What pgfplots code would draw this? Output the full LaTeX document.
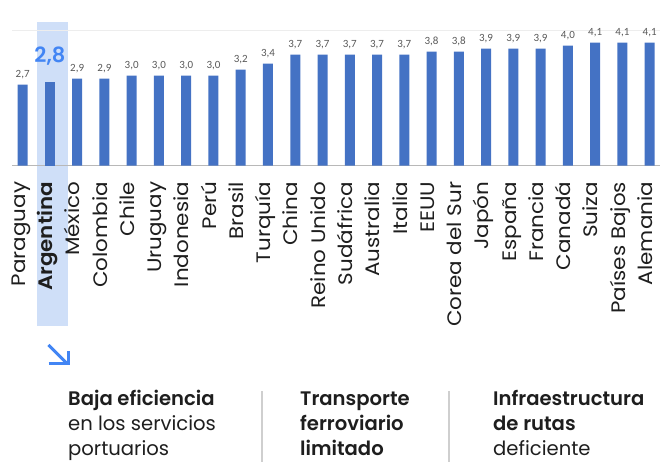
\documentclass[border=0pt]{standalone}
\usepackage{pgfplots}
\pgfplotsset{compat=1.18}
\usepackage{fontspec}
\setmainfont{Poppins}[BoldFont={Poppins SemiBold}]
\newfontfamily\carlito{Carlito}
\definecolor{barblue}{HTML}{4472C4}
\definecolor{hl}{HTML}{CFDFF8}
\definecolor{accent}{HTML}{4285F4}
\definecolor{txt}{HTML}{1E1E1E}
\definecolor{lbl}{HTML}{595959}
\definecolor{sep}{HTML}{CFCFCF}
\begin{document}
\begin{tikzpicture}[x=1bp,y=1bp]
\useasboundingbox (0,0) rectangle (669,462);
\fill[hl] (36.7,136.3) rectangle (67.7,439.7);
\begin{axis}[
  at={(12bp,296.3bp)}, anchor=south west,
  scale only axis, width=648bp, height=135bp,
  xmin=-0.39, xmax=23.38, ymin=0, ymax=4.5,
  clip=false,
  axis x line=bottom, axis y line=left,
  x axis line style={draw=black!28, line width=0.8bp, -},
  y axis line style={draw=none},
  ytick={4.5}, yticklabels={}, ymajorgrids,
  grid style={draw=black!7, line width=0.8bp},
  major tick length=0pt,
  xtick={0,...,23},
  xticklabels={Paraguay,\textbf{Argentina},México,Colombia,Chile,Uruguay,Indonesia,Perú,Brasil,Turquía,China,Reino Unido,Sudáfrica,Australia,Italia,EEUU,Corea del Sur,Japón,España,Francia,Canadá,Suiza,Países Bajos,Alemania},
  xticklabel style={rotate=90, xscale=1.1, anchor=mid east, inner sep=0pt, font=\fontsize{19.5bp}{23bp}\selectfont, text=txt},
  xticklabel shift=16bp,
  ybar, bar width=10bp,
  /pgf/number format/.cd, fixed, fixed zerofill, precision=1, use comma, assume math mode=true,
]
\addplot[fill=barblue, draw=none, bar shift=0pt,
  nodes near coords,
  every node near coord/.style={font=\carlito\fontsize{11bp}{13bp}\selectfont, text=lbl, anchor=south, inner sep=0pt, yshift=6bp}]
  coordinates {(0,2.7) (2,2.9) (3,2.9) (4,3.0) (5,3.0) (6,3.0) (7,3.0) (8,3.2) (9,3.4) (10,3.7) (11,3.7) (12,3.7) (13,3.7) (14,3.7) (15,3.8) (16,3.8) (17,3.9) (18,3.9) (19,3.9) (20,4.0) (21,4.1) (22,4.1) (23,4.1)};
\addplot[fill=barblue, draw=none, bar shift=0pt,
  nodes near coords,
  every node near coord/.style={font=\bfseries\fontsize{21bp}{25bp}\selectfont, text=accent, anchor=south, inner sep=0pt, yshift=16bp}]
  coordinates {(1,2.8)};
\end{axis}
% arrow
\draw[accent, line width=3bp, line cap=butt] (48.5,117) -- (67,98.5);
\draw[accent, line width=3bp, line join=miter] (48.5,98.5) -- (68.3,98.5) -- (68.3,111);
% separators
\draw[sep, line width=2bp] (261.7,0) -- (261.7,71);
\draw[sep, line width=2bp] (449,0) -- (449,71);
% texts
\begin{scope}[every node/.style={anchor=base west, inner sep=0pt, text=txt, font=\fontsize{19.6bp}{25bp}\selectfont}]
\node at (68,56.5) {\textbf{Baja eficiencia}};
\node at (68,31.5) {en los servicios};
\node at (68,6.5) {portuarios};
\node at (300,56.5) {\textbf{Transporte}};
\node at (300,31.5) {\textbf{ferroviario}};
\node at (300,6.5) {\textbf{limitado}};
\node at (493,56.5) {\textbf{Infraestructura}};
\node at (493,31.5) {\textbf{de rutas}};
\node at (493,6.5) {deficiente};
\end{scope}
\end{tikzpicture}
\end{document}
